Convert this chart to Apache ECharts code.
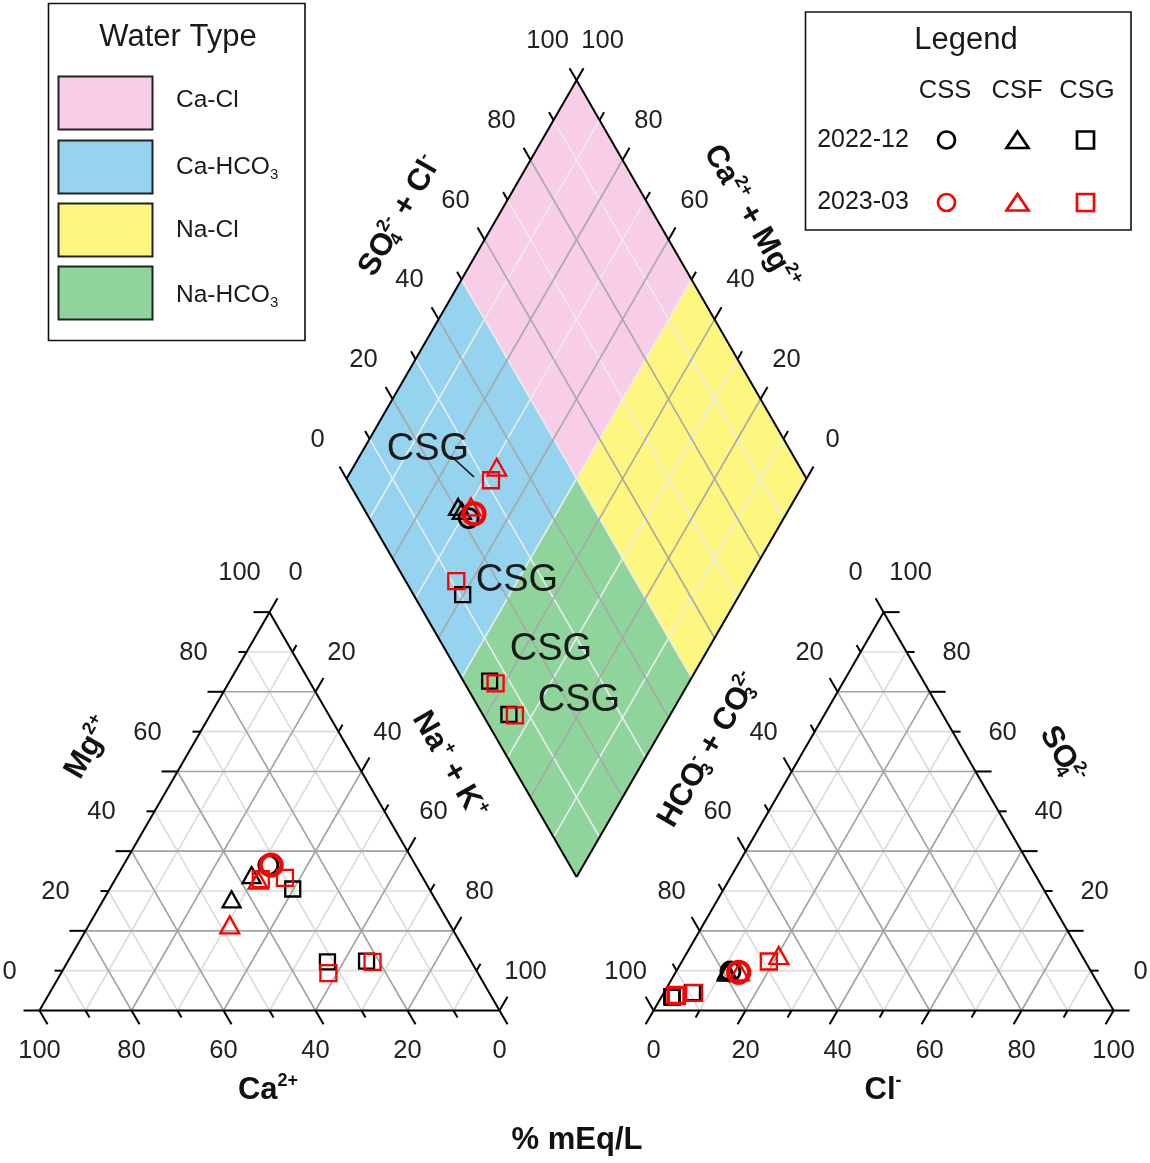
<!DOCTYPE html>
<html><head><meta charset="utf-8">
<script src="https://cdn.jsdelivr.net/npm/echarts@6/dist/echarts.min.js"></script>
<style>html,body{margin:0;padding:0;background:#fff}#c{width:1150px;height:1163px}</style>
</head><body><div id="c"></div>
<script>
// ---------------- data ----------------
// tick values (%)
const gridPct  = [10, 20, 30, 40, 50, 60, 70, 80, 90];
const tickPct  = [0, 10, 20, 30, 40, 50, 60, 70, 80, 90, 100];
const labelPct = [0, 20, 40, 60, 80, 100];

// water-type regions of the diamond: (Ca+Mg)% range and (SO4+Cl)% range
const regionNames = ['Ca-Cl', 'Ca-HCO3', 'Na-Cl', 'Na-HCO3'];
const regionU = [[50, 100], [50, 100], [0, 50], [0, 50]];
const regionV = [[50, 100], [0, 50], [50, 100], [0, 50]];
const regionColors = ['#F7CDE8', '#95D3EF', '#FEF77F', '#8FD59B'];

// samples, each row: [Ca, Mg, Na+K, HCO3+CO3, SO4, Cl]  (% meq/L)
const CSS_2022_12 = [[32.0, 36.5, 31.5, 78.4, 9.8, 11.8]];
const CSS_2023_03 = [[31.4, 36.5, 32.1, 76.7, 9.6, 13.7]];
const CSF_2022_12 = [[36.9, 34.0, 29.1, 79.0, 10.0, 11.0],
                     [44.3, 27.9, 27.8, 79.3, 9.5, 11.2]];
const CSF_2023_03 = [[36.1, 32.7, 31.2, 65.9, 13.8, 20.3],
                     [47.9, 21.5, 30.6, 76.5, 9.7, 13.8]];
const CSG_2022_12 = [[29.7, 30.5, 39.8, 89.3, 4.5, 6.2],
                     [31.3, 12.2, 56.5, 94.3, 3.5, 2.2],
                     [22.7, 12.4, 64.9, 94.3, 3.3, 2.4]];
const CSG_2023_03 = [[35.4, 33.0, 31.6, 68.8, 12.3, 18.9],
                     [30.0, 33.3, 36.7, 89.0, 4.4, 6.6],
                     [32.5, 9.4, 58.1, 93.3, 3.9, 2.8],
                     [21.5, 12.2, 66.3, 93.1, 3.7, 3.2]];

// ---------------- geometry ----------------
const FONT = '"Liberation Sans", Arial, Helvetica, sans-serif';
const W = 1150, HT = 1163;
const S = 460;           // px per triangle side
const X0 = 39.5, Y0 = 1010.5;
const H = Math.sqrt(3) / 2;
const G = 0.335;
const OX = 1 + G;
const B = [1 + G / 2, G * H];
function dia(u, v) { return [B[0] + (v - u) / 2, B[1] + (u + v) * H]; }
function catXY(r) { return [(r[2] + r[1] / 2) / 100, r[1] / 100 * H]; }
function anXY(r) { return [OX + (r[5] + r[4] / 2) / 100, r[4] / 100 * H]; }
function diaXY(r) { return dia((r[0] + r[1]) / 100, (r[4] + r[5]) / 100); }

const minorSegs = [], majorSegs = [], dMinorSegs = [], dMajorSegs = [], edgeSegs = [], tickSegs = [], labels = [];
for (const t of gridPct) {
  const f = t / 100;
  const tri = (t % 20 === 0) ? majorSegs : minorSegs;
  const dm = (t % 20 === 0) ? dMajorSegs : dMinorSegs;
  tri.push([[f / 2, f * H], [1 - f / 2, f * H]]);
  tri.push([[f, 0], [f + (1 - f) / 2, (1 - f) * H]]);
  tri.push([[1 - f, 0], [(1 - f) / 2, (1 - f) * H]]);
  tri.push([[OX + f / 2, f * H], [OX + 1 - f / 2, f * H]]);
  tri.push([[OX + f, 0], [OX + f + (1 - f) / 2, (1 - f) * H]]);
  tri.push([[OX + 1 - f, 0], [OX + (1 - f) / 2, (1 - f) * H]]);
  dm.push([dia(f, 0), dia(f, 1)]);
  dm.push([dia(0, f), dia(1, f)]);
}
function poly(pts) { for (let i = 0; i < pts.length; i++) edgeSegs.push([pts[i], pts[(i + 1) % pts.length]]); }
poly([[0, 0], [1, 0], [0.5, H]]);
poly([[OX, 0], [OX + 1, 0], [OX + 0.5, H]]);
poly([dia(0, 0), dia(1, 0), dia(1, 1), dia(0, 1)]);

const D = { left: [-1, 0], right: [1, 0], dr: [0.5, -H], dl: [-0.5, -H], ur: [0.5, H], ul: [-0.5, H] };
function addTick(p, d, len) { tickSegs.push([p, [p[0] + d[0] * len / S, p[1] + d[1] * len / S]]); }
for (const t of tickPct) {
  const f = t / 100, L = t % 20 === 0 ? 16 : 8, Ld = t % 20 === 0 ? 14 : 9;
  addTick([f / 2, f * H], D.left, L);
  addTick([1 - f, 0], D.dr, L);
  addTick([f + (1 - f) / 2, (1 - f) * H], D.ur, L);
  addTick([OX + 1 - f / 2, f * H], D.right, L);
  addTick([OX + f, 0], D.dl, L);
  addTick([OX + (1 - f) / 2, (1 - f) * H], D.ul, L);
  addTick(dia(1, f), D.ul, Ld);
  addTick(dia(f, 1), D.ur, Ld);
}
for (const t of labelPct) {
  const f = t / 100, s = String(t);
  labels.push({ p: [f / 2, f * H], dx: -30, dy: -39, s });                       // Mg
  labels.push({ p: [f + (1 - f) / 2, (1 - f) * H], dx: 26, dy: -39, s });        // Na+K
  labels.push({ p: [1 - f, 0], dx: 0, dy: 40, s });                              // Ca
  labels.push({ p: [OX + (1 - f) / 2, (1 - f) * H], dx: -28, dy: -39, s });      // HCO3
  labels.push({ p: [OX + 1 - f / 2, f * H], dx: 27, dy: -39, s });               // SO4
  labels.push({ p: [OX + f, 0], dx: 0, dy: 40, s });                             // Cl
  labels.push({ p: dia(1, f), dx: -29, dy: -39, s });                            // SO4+Cl
  labels.push({ p: dia(f, 1), dx: 26, dy: -39, s });                             // Ca+Mg
}
const regions = regionNames.map((n, i) => {
  const u = regionU[i].map(x => x / 100), v = regionV[i].map(x => x / 100);
  return [dia(u[0], v[0]), dia(u[1], v[0]), dia(u[1], v[1]), dia(u[0], v[1])];
});

function segSeries(list, color, width) {
  return {
    type: 'custom', silent: true, z: 2,
    data: list.map(s => [s[0][0], s[0][1]]),
    renderItem: (params, api) => {
      const s = list[params.dataIndex];
      const a = api.coord(s[0]), b = api.coord(s[1]);
      return { type: 'line', shape: { x1: a[0], y1: a[1], x2: b[0], y2: b[1] }, style: { stroke: color, lineWidth: width, lineCap: 'butt' } };
    }
  };
}

function scatter(name, rows, symbol, size, color, bw) {
  const data = [];
  rows.forEach(r => { data.push(catXY(r)); data.push(anXY(r)); data.push(diaXY(r)); });
  return {
    type: 'scatter', name, data, symbol, symbolSize: size, silent: true, z: 10,
    itemStyle: { color: 'rgba(0,0,0,0)', borderColor: color, borderWidth: bw, opacity: 1 }
  };
}

const RED = '#FF0000', BLK = '#000000';
const series = [
  {
    type: 'custom', silent: true, z: 1,
    data: regions.map(r => [r[0][0], r[0][1]]),
    renderItem: (params, api) => {
      const pts = regions[params.dataIndex].map(p => api.coord(p));
      return { type: 'polygon', shape: { points: pts }, style: { fill: regionColors[params.dataIndex], stroke: null } };
    }
  },
  segSeries(minorSegs, '#dcdcdc', 1.6),
  segSeries(majorSegs, '#a2a2a2', 1.6),
  segSeries(dMinorSegs, '#ececec', 1.6),
  segSeries(dMajorSegs, '#a8a8a8', 1.6),
  segSeries(edgeSegs, '#000', 2),
  segSeries(tickSegs, '#000', 2),
  {
    type: 'custom', silent: true, z: 3,
    data: labels.map(l => [l.p[0], l.p[1]]),
    renderItem: (params, api) => {
      const l = labels[params.dataIndex];
      const p = api.coord(l.p);
      return { type: 'text', x: p[0] + l.dx, y: p[1] + l.dy,
        style: { text: l.s, fill: '#222', fontSize: 25.5, fontFamily: FONT, align: 'center', verticalAlign: 'middle' } };
    }
  },
  scatter('CSG 2022-12', CSG_2022_12, 'rect', 15, BLK, 2.3),
  scatter('CSF 2022-12', CSF_2022_12, 'triangle', [18, 16], BLK, 2.3),
  scatter('CSS 2022-12', CSS_2022_12, 'circle', 19, BLK, 2.8),
  scatter('CSG 2023-03', CSG_2023_03, 'rect', 16, RED, 2.3),
  scatter('CSF 2023-03', CSF_2023_03, 'triangle', [19, 17], RED, 2.3),
  scatter('CSS 2023-03', CSS_2023_03, 'circle', 21, RED, 4.2)
];

// ---------------- text / legends ----------------
const richT = {
  b: { fontSize: 31, fontWeight: 'bold', fontFamily: FONT, fill: '#111', lineHeight: 36 },
  p: { fontSize: 18, fontWeight: 'bold', fontFamily: FONT, fill: '#111', lineHeight: 18, verticalAlign: 'top' },
  s: { fontSize: 18, fontWeight: 'bold', fontFamily: FONT, fill: '#111', lineHeight: 18, verticalAlign: 'bottom' },
  s0: { fontSize: 18, fontWeight: 'bold', fontFamily: FONT, fill: '#111', lineHeight: 18, verticalAlign: 'bottom', width: 0 }
};
function title(x, y, rot, text) {
  return { type: 'text', x, y, rotation: rot, z: 20,
    style: { text, rich: richT, align: 'center', verticalAlign: 'middle', fontSize: 31, fontWeight: 'bold', fontFamily: FONT, fill: '#111' } };
}
function txt(x, y, text, size, align, extra) {
  return Object.assign({ type: 'text', x, y, z: 20,
    style: { text, fontSize: size, fontFamily: FONT, fill: '#1a1a1a', align: align || 'center', verticalAlign: 'middle' } }, extra || {});
}
const P3 = Math.PI / 3;
const graphics = [
  title(268, 1090, 0, '{b|Ca}{p|2+}'),
  title(883, 1090, 0, '{b|Cl}{p|-}'),
  title(577, 1140, 0, '{b|% mEq/L}'),
  title(89, 748, P3, '{b|Mg}{p|2+}'),
  title(449, 765, -P3, '{b|Na}{p|+}{b| + K}{p|+}'),
  title(709, 750, P3, '{b|HCO}{s0|3}{p|-}{b| + CO}{s0|3}{p|2-}'),
  title(1062, 755, -P3, '{b|SO}{s0|4}{p|2-}'),
  title(400, 216, P3, '{b|SO}{s0|4}{p|2-}{b| + Cl}{p|-}'),
  title(751, 217, -P3, '{b|Ca}{p|2+}{b| + Mg}{p|2+}'),
  // CSG annotations
  txt(428, 450, 'CSG', 38, 'center', {}),
  txt(517, 581, 'CSG', 38, 'center', {}),
  txt(551, 650, 'CSG', 38, 'center', {}),
  txt(579, 701, 'CSG', 38, 'center', {}),
  { type: 'line', z: 20, shape: { x1: 451, y1: 456, x2: 474, y2: 477 }, style: { stroke: '#111', lineWidth: 1.6 } },
  // Water type box
  { type: 'rect', z: 20, shape: { x: 48.5, y: 3.5, width: 256.5, height: 337 }, style: { fill: '#fff', stroke: '#111', lineWidth: 1.6 } },
  txt(178, 37, 'Water Type', 31, 'center', {}),
];
const swY = [76.5, 140.5, 203.5, 266.5];
const swLabel = ['{t|Ca-Cl}', '{t|Ca-HCO}{s|3}', '{t|Na-Cl}', '{t|Na-HCO}{s|3}'];
const swLabelY = [100, 167, 230, 295];
const swRich = {
  t: { fontSize: 24.5, fontFamily: FONT, fill: '#1a1a1a', lineHeight: 30 },
  s: { fontSize: 15, fontFamily: FONT, fill: '#1a1a1a', lineHeight: 15, verticalAlign: 'bottom' }
};
regionColors.forEach((c, i) => {
  graphics.push({ type: 'rect', z: 21, shape: { x: 58.5, y: swY[i], width: 94, height: 53 }, style: { fill: c, stroke: '#222', lineWidth: 2 } });
  graphics.push({ type: 'text', z: 21, x: 176, y: swLabelY[i], style: { text: swLabel[i], rich: swRich, align: 'left', verticalAlign: 'middle', fontSize: 24.5, fontFamily: FONT } });
});
// Symbol legend box
graphics.push({ type: 'rect', z: 20, shape: { x: 805.5, y: 12, width: 325.5, height: 218 }, style: { fill: '#fff', stroke: '#111', lineWidth: 1.6 } });
graphics.push(txt(966, 40, 'Legend', 31, 'center', {}));
const legCols = ['CSS', 'CSF', 'CSG'], legColX = [945, 1017, 1087];
const legRows = ['2022-12', '2023-03'], legRowY = [140, 202.5], legRowC = [BLK, RED];
legCols.forEach((c, i) => graphics.push(txt(legColX[i], 91, c, 25.5, 'center', {})));
legRows.forEach((r, j) => {
  const y = legRowY[j], col = legRowC[j];
  graphics.push(txt(863, y, r, 25, 'center', {}));
  graphics.push({ type: 'circle', z: 21, shape: { cx: 946.5, cy: y, r: 8.5 }, style: { fill: 'none', stroke: col, lineWidth: 2.7 } });
  graphics.push({ type: 'polygon', z: 21, shape: { points: [[1017.5, y - 8.5], [1028.5, y + 8], [1006.5, y + 8]] }, style: { fill: 'none', stroke: col, lineWidth: 2.7, lineJoin: 'miter' } });
  graphics.push({ type: 'rect', z: 21, shape: { x: 1077, y: y - 8.5, width: 17, height: 17 }, style: { fill: 'none', stroke: col, lineWidth: 2.7 } });
});

const chart = echarts.init(document.getElementById('c'), null, { renderer: 'canvas' });
chart.setOption({
  animation: false,
  backgroundColor: '#ffffff',
  grid: { left: 0, right: 0, top: 0, bottom: 0, containLabel: false, outerBoundsMode: 'none' },
  xAxis: { type: 'value', min: -X0 / S, max: (W - X0) / S, show: false, splitLine: { show: false } },
  yAxis: { type: 'value', min: -(HT - Y0) / S, max: Y0 / S, show: false, splitLine: { show: false } },
  tooltip: { show: false },
  series,
  graphic: { elements: graphics }
});
</script>
</body></html>
